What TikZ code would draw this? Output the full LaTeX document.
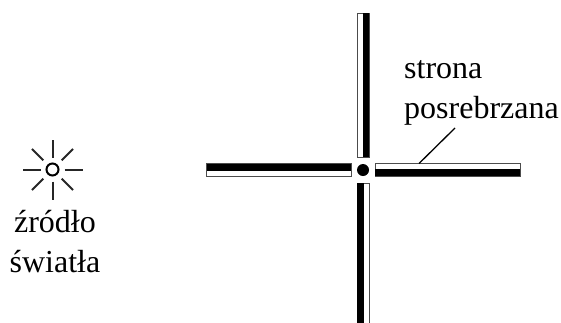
\documentclass[tikz,border=0pt]{standalone}
\usepackage{fontspec}
\setmainfont{Liberation Serif}
\tikzset{
 x=1pt,y=-1pt,
 barframe/.style={draw=black!70,line width=1pt,fill=white},
 silver/.style={fill=black},
 ray/.style={draw=black!85,line width=2pt},
 lbl/.style={inner sep=0pt,align=left,font=\fontsize{32}{40}\selectfont},
}
\begin{document}
\begin{tikzpicture}
\useasboundingbox (0,0) rectangle (561,322);
% mirrors
\draw[barframe] (206.5,163.5) rectangle (351,176);
\fill[silver] (206.5,163.5) rectangle (351,171);
\draw[barframe] (375,163.5) rectangle (520,176);
\fill[silver] (375,169) rectangle (520,176);
\draw[barframe] (357,13) rectangle (369,157);
\fill[silver] (363,13) rectangle (369,157);
\draw[barframe] (357,183) rectangle (369,326);
\fill[silver] (357,183) rectangle (363.5,326);
\node[circle,fill=black,inner sep=0pt,minimum size=12pt] (dot) at (363,170) {};
% label
\node[lbl,anchor=base west] (label) at (404,118) {strona\\posrebrzana};
\coordinate (lineTop) at (455,128);
\coordinate (lineEnd) at (419,163.5);
\draw[line width=1.3pt] (lineTop) -- (lineEnd);
% source
\node[circle,draw=black,line width=2pt,minimum size=12pt,inner sep=0pt] (src) at (52.5,169.5) {};
\foreach \a in {0,90,180,270}{
  \draw[ray] (src.center) ++(\a:12) -- ++(\a:18);
}
\foreach \a in {45,135,225,315}{
  \draw[ray] (src.center) ++(\a:13) -- ++(\a:16);
}
\node[lbl,anchor=base,align=center] (cap) at (55,272) {źródło\\światła};
\end{tikzpicture}
\end{document}
